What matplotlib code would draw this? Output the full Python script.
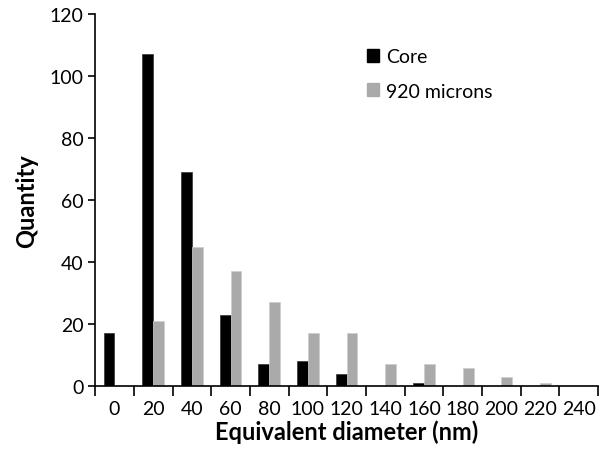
import numpy as np
import matplotlib
matplotlib.use('Agg')
import matplotlib.pyplot as plt
import matplotlib.patches as mpatches

plt.rcParams['font.family'] = ['Lato', 'DejaVu Sans']

diameters = ['0', '20', '40', '60', '80', '100', '120', '140', '160', '180', '200', '220', '240']
core = [17, 107, 69, 23, 7, 8, 4, 0, 1, 0, 0, 0, 0]
microns_920 = [0, 21, 45, 37, 27, 17, 17, 7, 7, 6, 3, 1, 0]

fig = plt.figure(figsize=(6.06, 4.56), dpi=100)
ax = fig.add_axes([0.157, 0.151, 0.83, 0.816])

x = np.arange(len(diameters))
w = 0.28
ax.bar(x - w / 2, core, w, color='black', edgecolor='#333333', linewidth=0.5)
ax.bar(x + w / 2, microns_920, w, color='#aaaaaa', edgecolor='#cccccc', linewidth=0.5)

ax.set_xlim(-0.5, len(diameters) - 0.5)
ax.set_ylim(0, 120)
ax.set_yticks(np.arange(0, 121, 20))
ax.set_xticks(x)
ax.set_xticklabels(diameters, fontsize=14)
ax.set_xticks(np.arange(-0.5, len(diameters), 1), minor=True)
ax.tick_params(axis='x', which='major', length=0, pad=10)
ax.tick_params(axis='x', which='minor', length=7, width=1.2, direction='out')
ax.tick_params(axis='y', labelsize=14, length=5, width=1.2, direction='out')

for s in ['top', 'right']:
    ax.spines[s].set_visible(False)
for s in ['left', 'bottom']:
    ax.spines[s].set_linewidth(1.2)

ax.set_ylabel('Quantity', fontsize=17, fontweight='bold', labelpad=8)
ax.set_xlabel('Equivalent diameter (nm)', fontsize=17, fontweight='bold', labelpad=2)

handles = [mpatches.Patch(color='black', label='Core'),
           mpatches.Patch(color='#aaaaaa', label='920 microns')]
ax.legend(handles=handles, loc='upper left', bbox_to_anchor=(0.505, 0.955), frameon=False,
          fontsize=14, handlelength=0.65, handleheight=0.65, handletextpad=0.35,
          labelspacing=0.9)

fig.savefig('out.png', dpi=100)
